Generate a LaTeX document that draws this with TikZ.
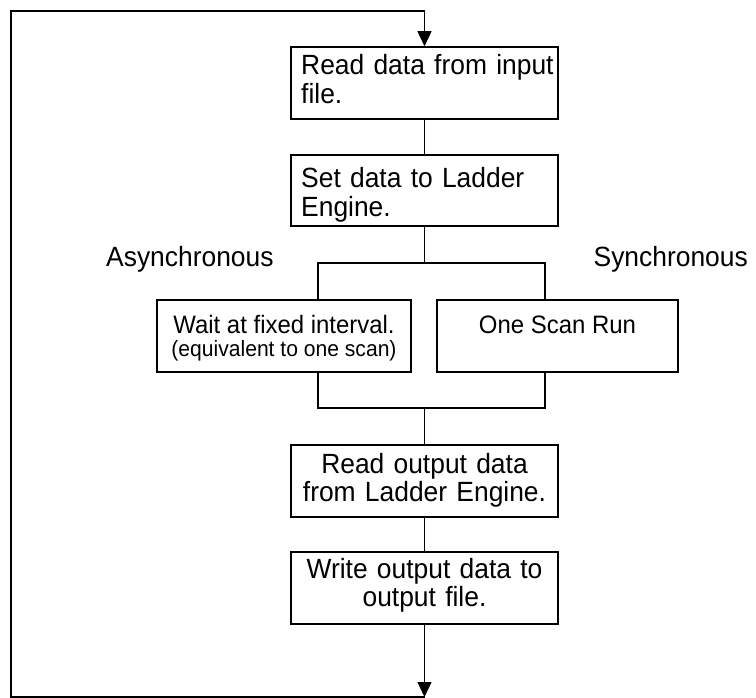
\documentclass[tikz,border=0pt]{standalone}
\usepackage{fontspec}
\setmainfont{Liberation Sans}[FakeStretch=0.95]
\usetikzlibrary{arrows.meta}
\begin{document}
\begin{tikzpicture}[x=1pt,y=-1pt,
  box/.style={draw=black, line width=1.5pt, rectangle, inner sep=0pt},
  conn/.style={draw=black, line width=1.3pt},
  arr/.style={conn, -{Triangle[length=15pt,width=14pt]}},
  big/.style={font=\fontsize{27.8}{28.5}\selectfont, inner sep=0pt},
  mid/.style={font=\fontsize{25.2}{26}\selectfont, inner sep=0pt},
  small/.style={font=\fontsize{22.2}{23}\selectfont, inner sep=0pt}]
\useasboundingbox (0,0) rectangle (756,698);

% boxes
\node[box, minimum width=267pt, minimum height=72pt] (b1) at (424.5,83) {};
\node[box, minimum width=267pt, minimum height=71pt] (b2) at (424.5,190.5) {};
\node[box, minimum width=254pt, minimum height=72pt] (b3) at (284,336) {};
\node[box, minimum width=241pt, minimum height=72pt] (b4) at (557.5,336) {};
\node[box, minimum width=267pt, minimum height=72pt] (b5) at (424.5,481) {};
\node[box, minimum width=267pt, minimum height=72pt] (b6) at (424.5,588) {};

% texts
\node[big, anchor=base west, text width=290pt, align=left] (t1) at (301,75) {Read data from input\\file.};
\node[big, anchor=base west, text width=290pt, align=left] (t2) at (301,188) {Set data to Ladder\\Engine.};
\node[mid, anchor=base] (t3a) at (284,333) {Wait at fixed interval.};
\node[small, anchor=base] (t3b) at (284,356) {(equivalent to one scan)};
\node[mid, anchor=base] (t4) at (557.5,333) {One Scan Run};
\node[big, anchor=base, text width=300pt, align=center] (t5) at (424.5,473) {Read output data\\from Ladder Engine.};
\node[big, anchor=base, text width=300pt, align=center] (t6) at (424.5,578) {Write output data to\\output file.};
\node[big, anchor=base west] (ta) at (106,267) {Asynchronous};
\node[big, anchor=base east] (ts) at (748,267) {Synchronous};

% coordinates
\coordinate (fk) at (424.5,263);
\coordinate (fkL) at (318,263);
\coordinate (fkR) at (545,263);
\coordinate (jn) at (424.5,408);
\coordinate (jnL) at (318,408);
\coordinate (jnR) at (545,408);
\coordinate (bot) at (424.5,697);
\coordinate (tl) at (11,11);

% connectors
\draw[conn] (b1.south) -- (b2.north);
\draw[conn] (b2.south) -- (fk);
\draw[conn] (fkL |- b3.north) -- (fkL) -- (fkR) -- (fkR |- b4.north);
\draw[conn] (fkL |- b3.south) -- (jnL) -- (jnR) -- (fkR |- b4.south);
\draw[conn] (jn) -- (b5.north);
\draw[conn] (b5.south) -- (b6.north);
\draw[arr] (b6.south) -- (bot);
\draw[arr] (bot) -| (tl) -| (b1.north);
\end{tikzpicture}
\end{document}
